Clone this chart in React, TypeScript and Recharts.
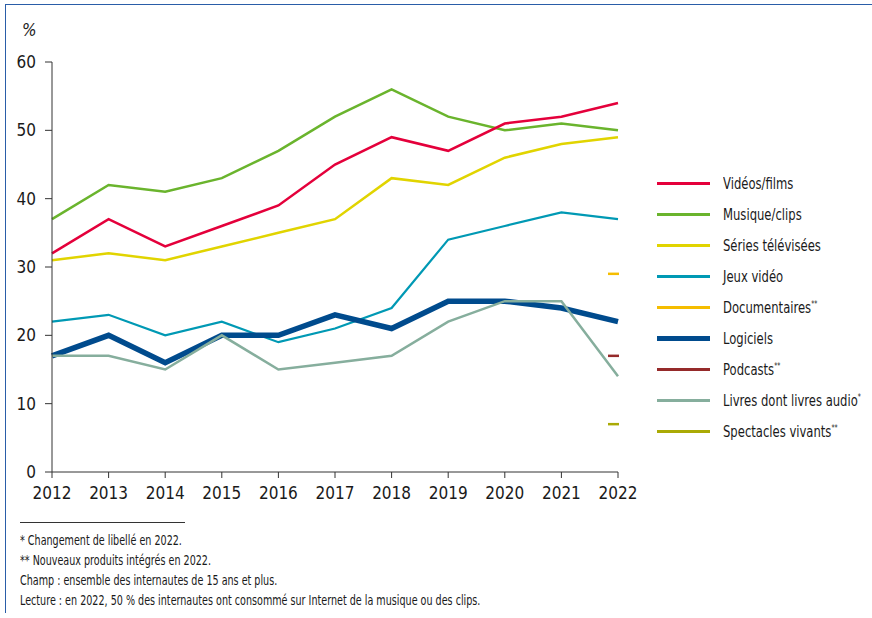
import React from 'react'
import { LineChart, Line, XAxis, YAxis } from 'recharts'

const years = [2012, 2013, 2014, 2015, 2016, 2017, 2018, 2019, 2020, 2021, 2022]
const videos = [32, 37, 33, 36, 39, 45, 49, 47, 51, 52, 54]
const musique = [37, 42, 41, 43, 47, 52, 56, 52, 50, 51, 50]
const series = [31, 32, 31, 33, 35, 37, 43, 42, 46, 48, 49]
const jeux = [22, 23, 20, 22, 19, 21, 24, 34, 36, 38, 37]
const logiciels = [17, 20, 16, 20, 20, 23, 21, 25, 25, 24, 22]
const livres = [17, 17, 15, 20, 15, 16, 17, 22, 25, 25, 14]
// new in 2022 only
const documentaires2022 = 29
const podcasts2022 = 17
const spectacles2022 = 7
const yTicks = [0, 10, 20, 30, 40, 50, 60]

const FONT = '"DejaVu Sans", sans-serif'

const data = years.map((year, i) => ({
  year,
  videos: videos[i],
  musique: musique[i],
  series: series[i],
  jeux: jeux[i],
  logiciels: logiciels[i],
  livres: livres[i],
  documentaires: year === 2022 ? documentaires2022 : null,
  podcasts: year === 2022 ? podcasts2022 : null,
  spectacles: year === 2022 ? spectacles2022 : null,
}))

const legendItems = [
  { name: 'Vidéos/films', color: '#E4003B', width: 2.5, sup: '' },
  { name: 'Musique/clips', color: '#6AB42D', width: 2.5, sup: '' },
  { name: 'Séries télévisées', color: '#E1D400', width: 2.5, sup: '' },
  { name: 'Jeux vidéo', color: '#0099B4', width: 2.5, sup: '' },
  { name: 'Documentaires', color: '#F5BD00', width: 2.5, sup: '**' },
  { name: 'Logiciels', color: '#004B8D', width: 5, sup: '' },
  { name: 'Podcasts', color: '#952A2A', width: 2.5, sup: '**' },
  { name: 'Livres dont livres audio', color: '#86AE9D', width: 2.5, sup: '*' },
  { name: 'Spectacles vivants', color: '#AAAA05', width: 2.5, sup: '**' },
]

const dash = (color: string) => (props: any) => {
  const { cx, cy, value, index } = props
  if (value == null || cx == null || cy == null) return <g key={index} />
  return <line key={index} x1={cx - 10} x2={cx + 1} y1={cy} y2={cy} stroke={color} strokeWidth={2.5} />
}

const tickStyle = { fill: '#1a1a1a', fontSize: 17, fontFamily: FONT, fontStretch: 'condensed' } as any

export default function App() {
  return (
    <div style={{ position: 'absolute', left: 0, top: 0, width: 872, height: 618, background: '#fff', fontFamily: FONT, fontStretch: 'condensed', overflow: 'hidden' }}>
      {/* frame */}
      <div style={{ position: 'absolute', left: 5, top: 4, width: 867, height: 608, borderTop: '1.5px solid #2A5DA8', borderLeft: '1.5px solid #2A5DA8' }} />
      <div style={{ position: 'absolute', left: 22, top: 20, fontSize: 17, fontStyle: 'italic', color: '#222' }}>%</div>

      <div style={{ position: 'absolute', left: 0, top: 0 }}>
        <LineChart width={872} height={618} data={data} margin={{ top: 62, right: 254, bottom: 116, left: 0 }}>
          <XAxis
            dataKey="year"
            type="number"
            domain={[2012, 2022]}
            ticks={years}
            interval={0}
            stroke="#333"
            tickSize={6}
            tickMargin={9}
            tick={tickStyle}
            height={30}
          />
          <YAxis
            domain={[0, 60]}
            ticks={yTicks}
            interval={0}
            width={52}
            stroke="#333"
            tickSize={7}
            tickMargin={9}
            tick={tickStyle}
          />
          <Line dataKey="musique" stroke="#6AB42D" strokeWidth={2.5} dot={false} isAnimationActive={false} />
          <Line dataKey="videos" stroke="#E4003B" strokeWidth={2.5} dot={false} isAnimationActive={false} />
          <Line dataKey="series" stroke="#E1D400" strokeWidth={2.5} dot={false} isAnimationActive={false} />
          <Line dataKey="jeux" stroke="#0099B4" strokeWidth={2.2} dot={false} isAnimationActive={false} />
          <Line dataKey="logiciels" stroke="#004B8D" strokeWidth={5.5} dot={false} isAnimationActive={false} />
          <Line dataKey="livres" stroke="#86AE9D" strokeWidth={2.5} dot={false} isAnimationActive={false} />
          <Line dataKey="documentaires" stroke="none" dot={dash('#F5BD00')} isAnimationActive={false} />
          <Line dataKey="podcasts" stroke="none" dot={dash('#952A2A')} isAnimationActive={false} />
          <Line dataKey="spectacles" stroke="none" dot={dash('#AAAA05')} isAnimationActive={false} />
        </LineChart>
      </div>

      {/* legend */}
      <div style={{ position: 'absolute', left: 657, top: 168 }}>
        {legendItems.map((item) => (
          <div key={item.name} style={{ display: 'flex', alignItems: 'center', height: 31 }}>
            <div style={{ width: 53, height: item.width, background: item.color, marginRight: 13 }} />
            <span style={{ fontSize: 15, color: '#1a1a1a', whiteSpace: 'nowrap', display: 'inline-block', transform: 'scaleX(0.86)', transformOrigin: 'left center' }}>
              {item.name}
              {item.sup && <sup style={{ fontSize: 8 }}>{item.sup}</sup>}
            </span>
          </div>
        ))}
      </div>

      {/* notes */}
      <div style={{ position: 'absolute', left: 20, top: 522, width: 165, borderTop: '1px solid #333' }} />
      <div style={{ position: 'absolute', left: 20, top: 530, fontSize: 13.5, color: '#1a1a1a', lineHeight: '20px', whiteSpace: 'nowrap', transform: 'scaleX(0.79)', transformOrigin: 'left top' }}>
        <div>* Changement de libellé en 2022.</div>
        <div>** Nouveaux produits intégrés en 2022.</div>
        <div>Champ : ensemble des internautes de 15 ans et plus.</div>
        <div>Lecture : en 2022, 50 % des internautes ont consommé sur Internet de la musique ou des clips.</div>
      </div>
    </div>
  )
}
